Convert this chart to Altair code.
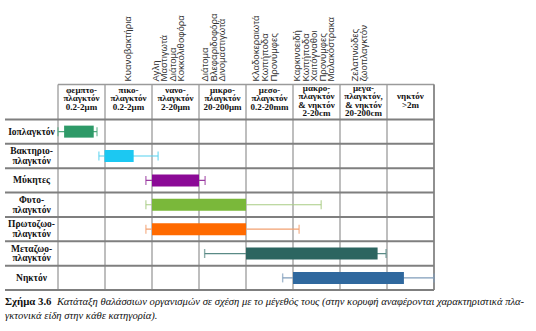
import altair as alt
import pandas as pd

# ---------------- data ----------------
rows = ["Ιοπλαγκτόν", "Βακτηριο-\nπλαγκτόν", "Μύκητες", "Φυτο-\nπλαγκτόν",
        "Πρωτοζωο-\nπλαγκτόν", "Μεταζωο-\nπλαγκτόν", "Νηκτόν"]
# ranges expressed in size-class units (0 = start of femto, 1 = pico, ... 8 = end of nekton)
bar_lo = [0.13, 0.99, 2.0, 2.0, 2.0, 4.0, 5.0]
bar_hi = [0.76, 1.61, 3.0, 4.0, 4.0, 6.8, 7.36]
wh_lo = [0.0, 0.87, 1.87, 1.87, 1.87, 3.12, 4.78]
wh_hi = [0.83, 2.13, 3.13, 5.6, 5.13, 6.98, 8.0]
bar_col = ["#2e9a68", "#1cc8f2", "#8b0a96", "#7ab83a", "#ff6a00", "#2c6560", "#2f689e"]
wh_col = ["#4fa87e", "#55d2f0", "#9a3aa0", "#a8cc85", "#f2a070", "#5a8a86", "#7f9cba"]

classes = ["φεμπτο-\nπλαγκτόν\n0.2-2μm", "πικο-\nπλαγκτόν\n0.2-2μm", "νανο-\nπλαγκτόν\n2-20μm",
           "μικρο-\nπλαγκτόν\n20-200μm", "μεσο-\nπλαγκτόν\n0.2-20mm",
           "μακρο-\nπλαγκτόν\n& νηκτόν\n2-20cm", "μεγα-\nπλαγκτόν,\n& νηκτόν\n20-200cm",
           "νηκτόν\n>2m"]
examples = [[], ["Κυανοβακτήρια"], ["Αγλη", "Μαστιγωτά", "Διάτομα", "Κοκκολιθοφόρα"],
            ["Διάτομα", "Βλεφαριδοφόρα", "Δινομαστιγωτά"],
            ["Κλαδοκεραιωτά", "Κωπήποδα", "Προνύμφες"],
            ["Καρκινοειδή", "Κωπήποδα", "Χαιτόγναθοι", "Προνύμφες", "Μαλακόστρακα"],
            ["Ζελατινώδες", "ζωοπλαγκτόν"], []]
caption_bold = "Σχήμα 3.6"
caption_1 = "Κατάταξη θαλάσσιων οργανισμών σε σχέση με το μέγεθός τους (στην κορυφή αναφέρονται χαρακτηριστικά πλα-"
caption_2 = "γκτονικά είδη στην κάθε κατηγορία)."

# ---------------- layout ----------------
W, H = 536, 331
X0, CW = 58.0, 47.0        # left of first size column, column width (px)
Y0, RH = 118.0, 25.14      # top of first row, row height (px)
def u(px): return (px - X0) / CW
def r(py): return (py - Y0) / RH

xs = alt.Scale(domain=[u(0), u(W)], nice=False, zero=False)
ys = alt.Scale(domain=[r(0), r(H)], nice=False, zero=False, reverse=True)
X = lambda f: alt.X(f, type="quantitative", scale=xs, axis=None)
Y = lambda f: alt.Y(f, type="quantitative", scale=ys, axis=None)

n = len(rows)
bars = pd.DataFrame({"row": list(range(n)), "lo": bar_lo, "hi": bar_hi, "wlo": wh_lo,
                     "whi": wh_hi, "c": bar_col, "wc": wh_col, "label": rows})
bars["yc"] = bars["row"] + 0.5
LH_ROW = 9.6
bars["ylab"] = bars["yc"] - (bars["label"].str.count("\n") * LH_ROW / 2) / RH

# grid
hlines = pd.DataFrame({"y": list(range(n + 1)), "x1": u(5), "x2": 8})
hdr_top = pd.DataFrame({"y": [r(82)], "x1": [0], "x2": [8]})
vlines = pd.DataFrame({"x": list(range(9)), "y1": r(82), "y2": n})

grid_h = alt.Chart(hlines).mark_rule(color="#7f7f7f", strokeWidth=2).encode(
    x=X("x1"), x2="x2", y=Y("y"))
grid_top = alt.Chart(hdr_top).mark_rule(color="#9a9a9a", strokeWidth=1.5).encode(
    x=X("x1"), x2="x2", y=Y("y"))
grid_v = alt.Chart(vlines).mark_rule(color="#a8a8a8", strokeWidth=1.5).encode(
    x=X("x"), y=Y("y1"), y2="y2")
border_r = alt.Chart(vlines[vlines.x == 8]).mark_rule(color="#808080", strokeWidth=1.5).encode(
    x=X("x"), y=Y("y1"), y2="y2")

whisk = alt.Chart(bars).mark_rule(strokeWidth=1.2).encode(
    x=X("wlo"), x2="whi", y=Y("yc"), color=alt.Color("wc:N", scale=None))
cap_lo = alt.Chart(bars).mark_tick(orient="vertical", size=9, thickness=1.4).encode(
    x=X("wlo"), y=Y("yc"), color=alt.Color("wc:N", scale=None))
cap_hi = alt.Chart(bars).mark_tick(orient="vertical", size=9, thickness=1.4).encode(
    x=X("whi"), y=Y("yc"), color=alt.Color("wc:N", scale=None))
bar = alt.Chart(bars).mark_bar(size=12, orient="horizontal").encode(
    x=X("lo"), x2="hi", y=Y("yc"), color=alt.Color("c:N", scale=None))

row_lbl = alt.Chart(bars.assign(xl=u(31.5))).transform_calculate(
    lines="split(datum.label, '\\n')").mark_text(
    font="Liberation Serif", fontWeight="bold", fontSize=9.5, lineHeight=LH_ROW,
    baseline="middle", align="center", color="#111").encode(
    x=X("xl"), y=Y("ylab"), text="lines:N")

LH_HDR = 8.5
hdr = pd.DataFrame({"x": [i + 0.5 for i in range(8)], "t": classes})
hdr["y"] = [r((96.0 if c.count("\n") == 2 else 98.3) - c.count("\n") * LH_HDR / 2)
            for c in classes]
hdr_txt = alt.Chart(hdr).transform_calculate(lines="split(datum.t, '\\n')").mark_text(
    font="Liberation Serif", fontWeight="bold", fontSize=9, lineHeight=LH_HDR,
    baseline="middle", align="center", color="#111").encode(
    x=X("x"), y=Y("y"), text="lines:N")

# rotated example names: pixel x position of each line
ex_px = {1: [128], 2: [155.5, 164, 172.5, 181], 3: [205, 213.5, 222],
         4: [256, 265, 274], 5: [297, 305.5, 314, 322.5, 331], 6: [355, 364]}
ex_rows = []
for ci, names in enumerate(examples):
    for k, nm in enumerate(names):
        ex_rows.append({"x": u(ex_px[ci][k]), "y": r(79), "t": nm})
ex_txt = alt.Chart(pd.DataFrame(ex_rows)).mark_text(
    font="Liberation Sans", fontSize=9.6, angle=270, align="left", baseline="middle",
    color="#333").encode(x=X("x"), y=Y("y"), text="t:N")

cap = pd.DataFrame({"x": [u(5), u(57), u(5)], "y": [r(306), r(306), r(321)],
                    "t": [caption_bold, caption_1, caption_2]})
cap_b = alt.Chart(cap.iloc[[0]]).mark_text(
    font="Liberation Serif", fontWeight="bold", fontSize=10.8, align="left",
    baseline="middle", color="#111").encode(x=X("x"), y=Y("y"), text="t:N")
cap_i = alt.Chart(cap.iloc[[1, 2]]).mark_text(
    font="Liberation Serif", fontStyle="italic", fontSize=10.6, align="left",
    baseline="middle", color="#111").encode(x=X("x"), y=Y("y"), text="t:N")

chart = alt.layer(grid_v, grid_h, grid_top, border_r, whisk, cap_lo, cap_hi, bar,
                  row_lbl, hdr_txt, ex_txt, cap_b, cap_i).properties(
    width=W, height=H, padding=0, autosize=alt.AutoSizeParams(type="none"),
    background="white").configure_view(stroke=None)

chart.save("out.html", embed_options={"renderer": "svg", "actions": False})
